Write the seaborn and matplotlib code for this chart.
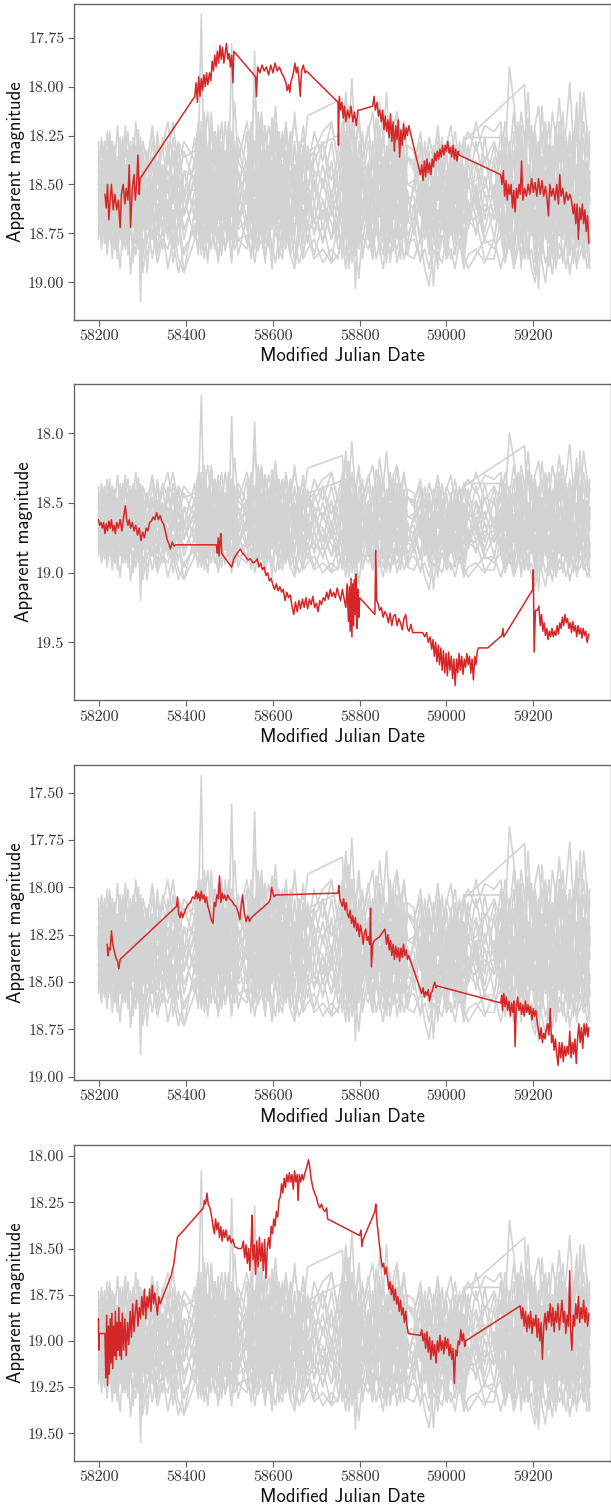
import matplotlib
matplotlib.use("Agg")
import matplotlib.pyplot as plt
import numpy as np
import pandas as pd
import seaborn as sns

# ---------------- data ----------------
# common epochs of the comparison (grey) light curves
grey_mjd = [58198, 58205, 58212, 58218, 58224, 58230, 58236, 58242, 58248, 58254, 58260, 58266, 58272, 58278, 58284, 58290, 58295, 58300,
            58310, 58322, 58334, 58346, 58358, 58370, 58382, 58395,
            58420, 58428, 58435, 58442, 58450, 58458, 58466, 58474, 58482, 58490, 58498, 58505, 58512, 58520,
            58540, 58550, 58558, 58566, 58574, 58582, 58590, 58598, 58606, 58614, 58622, 58630, 58640, 58650, 58660, 58670, 58680,
            58695, 58715, 58735, 58750,
            58760, 58768, 58775, 58782, 58790, 58798, 58806,
            58820, 58830, 58838, 58846, 58854, 58862, 58870, 58878, 58886, 58894, 58902, 58910,
            58925, 58940, 58950, 58960, 58970, 58980, 58990, 59000, 59010, 59020, 59030, 59040, 59050,
            59068, 59088,
            59110, 59125, 59135, 59145, 59155, 59165, 59172, 59180, 59188, 59196, 59204, 59212, 59220, 59228, 59236, 59244, 59252,
            59260, 59268, 59276, 59284, 59292, 59300, 59308, 59316, 59324, 59330]
N = None
# comparison stars: deviation in centi-magnitudes from the panel zero point
grey_star01 = [2, 12, -5, 15, 0, 20, -8, 10, 25, 3, 18, -6, 14, 5, 22, 8, 62, 10,
               47, 15, 5, 25, 0, 20, 10, 30,
               5, -10, -85, 10, -5, 15, 0, 20, -8, 12, 2, -70, 8, 18,
               10, 0, -66, 15, 5, 25, -2, 12, 20, 0, 18, 8, 28, 5, 15, 25, 10,
               20, 30, 15, 25,
               10, -5, 20, 0, 55, 12, 25,
               5, 20, -5, 15, 28, 8, 22, 0, 18, 30, 10, 20,
               25, 10, 30, 15, 54, 20, 8, 25, 12, 28, 15, 22, 18,
               20, 12,
               20, 10, 25, 5, 18, 30, 12, 22, 8, 28, 15, 55, 20, 10, 30, 18, 5, 25, 12, 32, 20, 8, 25, 15, 28, 20, 30]
grey_star02 = [-12, -2, -20, -8, -25, -5, -15, 0, -22, -10, -28, -5, -18, -8, -30, -12, -5, -20,
               -10, -25, -5, -18, -30, -8, -20, -12,
               -15, -28, -5, -20, -35, -10, -25, -12, -30, -5, -22, -15, -40, -10,
               -30, -15, -45, -20, -35, -10, -28, -18, -38, -12, -25, -8, -20, -30, -15, -22, -10,
               -15, -25, -30, -10,
               -20, -45, -25, -52, -15, -30, -10,
               -25, -35, -15, -40, -20, -45, -10, -28, -35, -18, -30, -12,
               -10, -20, -5, -22, -12, -25, -8, -18, -28, -10, -15, -20, -25,
               -15, -28,
               -25, -30, -10, -58, -40, -15, -35, -20, -45, -12, -28, -38, -18, -30, -10, -35, -22, -42, -15, -28, -50, -20, -35, -12, -45, -25, -18]
grey_star03 = [10, 20, 28, 15, 30, 22, 35, 18, 28, 12, 25, 32, 20, 35, 15, 28, 22, 47,
               30, 20, 38, 25, 45, 30, 47, 35,
               25, 35, 20, 30, 40, 22, 35, 28, 38, 18, 30, 25, 35, 30,
               28, 38, 22, 35, 30, 40, 25, 33, 42, 28, 36, 22, 38, 30, 42, 35, 28,
               40, 35, 42, 38,
               30, 45, 25, 38, 32, 50, 28,
               35, 25, 40, 30, 38, 22, 42, 30, 35, 28, 40, 32,
               30, 40, 35, 45, 30, 38, 42, 28, 40, 35, 30, 45, 38,
               35, 42,
               30, 45, 35, 28, 42, 30, 38, 25, 40, 35, 48, 30, 42, 52, 35, 28, 45, 32, 40, 30, 48, 35, 42, 38, 30, 45, 40]
grey_star04 = [-5, 15, 0, 25, -10, 18, 5, 28, -8, 20, 2, 25, -12, 15, 0, 22, 30, 5,
               12, -10, 20, -5, 15, 25, -8, 18,
               0, 20, -15, 10, 25, -5, 18, 2, 22, -10, 15, 5, -20, 12,
               -5, 20, 0, -25, 15, 5, 25, -10, 18, 2, 22, -5, 15, 30, 0, 20, 8,
               5, 10, 22, 30,
               -30, 15, -10, 25, 5, 35, 0,
               20, 0, 25, -8, 15, 5, 28, -10, 20, 2, 25, 10,
               15, 30, 5, 25, 10, 35, 20, 8, 28, 15, 35, 10, 25,
               5, 30,
               15, -5, 20, 35, 0, 25, 10, 40, 5, 22, -10, 30, 15, 0, 25, 40, 10, 20, -5, 30, 15, 42, 5, 25, 10, 35, 20]
grey_star05 = [5, -10, 10, -15, 8, -5, 15, -12, 5, -8, 12, -15, 3, -10, 8, -5, 12, 0,
               -15, 8, -10, 12, -5, 5, -18, 10,
               -8, 5, -20, -5, 10, -15, 5, -22, 0, -12, 8, -10, 3, -5,
               12, -15, 8, -20, 0, -12, 10, -25, 5, -10, 12, -15, 0, -8, 10, -18, 5,
               -10, -20, 0, -12,
               5, -25, 10, -15, 20, -5, 15,
               -10, 12, -5, 18, -12, 8, -8, 15, -15, 5, -10, 12,
               5, -8, 12, -5, 8, -12, 15, 0, -8, 10, -5, 8, 0,
               -10, 8,
               8, -15, 12, -5, 20, -20, 10, -8, 15, -25, 5, -10, 18, -5, 12, -15, 8, -30, 10, -5, 15, -12, 5, -45, 12, -8, 10]
grey_star06 = [15, 5, 20, 8, 25, 12, 5, 22, 15, 28, 8, 18, 25, 10, 30, 18, 40, 12,
               20, 30, 12, 22, 10, 35, 20, 47,
               15, 8, 25, 12, 5, 20, 10, 28, 15, 5, 22, 10, 18, 25,
               20, 8, 28, 15, 22, 5, 30, 18, 10, 25, 15, 32, 20, 10, 28, 15, 22,
               25, 15, 30, 20,
               15, 28, 10, 22, 18, 30, 20,
               12, 28, 18, 8, 25, 15, 32, 12, 25, 18, 10, 28,
               20, 12, 25, 18, 30, 15, 22, 35, 18, 25, 12, 28, 20,
               25, 15,
               12, 25, 18, 35, 15, 22, 30, 10, 25, 18, 35, 22, 12, 28, 20, 35, 15, 25, 30, 12, 22, 18, 32, 25, 15, 28, 22]
grey_star07 = [0, -8, 5, -2, 10, -12, 2, -5, 8, -15, 0, 5, -8, 10, -2, -12, 5, -5,
               2, -12, 8, -8, 5, -15, 10, -5,
               -2, -12, 5, -25, -5, 0, -18, 8, -10, 2, -30, -5, -12, 0,
               -10, 5, -20, 2, -15, 8, -5, -22, 0, -12, 5, -8, -18, 2, -10, 5, -15,
               -5, 0, -8, 5,
               -12, 8, -38, 0, -15, 10, -5,
               0, -15, 5, -25, 2, -10, 8, -20, 0, -8, 5, -12,
               -5, 8, -10, 5, -2, 10, -8, 2, 5, -12, 8, -5, 2,
               0, -12,
               -8, 8, -15, 2, -10, 5, -22, 0, -5, 10, -18, 5, -12, 0, -8, 12, -25, 2, -15, 8, -5, 0, -28, 8, -10, 2, -5]
grey_star08 = [8, 18, 2, 12, 20, 5, 15, 25, 8, 18, 0, 12, 22, 5, 15, 28, 10, 20,
               5, 18, 28, 10, 22, 5, 15, 25,
               10, 20, 5, 15, 25, 8, 20, 0, 12, 25, 5, 18, 10, 22,
               5, 18, 10, 25, 0, 15, 8, 22, 12, 0, 18, 8, 25, 12, 0, 10, -15,
               N, N, N, N,
               N, -25, 5, 18, 0, 22, 10,
               18, 5, 22, 12, 0, 15, 25, 8, 18, 2, 22, 10,
               15, 5, 20, 10, 25, 2, 18, 12, 5, 22, 8, -20, N,
               N, N,
               N, N, N, N, N, N, N, -49, 10, 25, 5, 18, 30, 8, 20, 12, 28, 5, 18, 25, 10, 20, 2, 15, 28, 12, 22]
grey_star09 = [-15, 0, -10, 8, -18, 2, -12, 10, -20, 0, -8, 12, -15, 2, -10, 15, -5, 8,
               -8, 5, -20, 10, -12, 0, -15, 5,
               5, -20, 0, -35, -8, 5, -25, -2, 10, -15, 0, -20, 5, -10,
               0, -18, 5, -12, -30, 0, -15, 8, -20, -5, 10, -12, 2, -18, 5, -10, -33,
               N, N, N, N,
               -42, 0, -20, 5, -15, 8, -10,
               -5, 10, -18, 2, -12, 12, -25, 0, -8, 10, -15, 2,
               0, -15, 5, -10, 10, -18, 2, -12, 8, -5, 12, -22, N,
               N, N,
               N, -22, -10, 8, -15, 5, -20, 10, -8, 2, -25, 8, -12, 5, -18, 0, 10, -15, 2, -20, 8, -10, 0, -15, 10, -5, 2]
grey_star10 = [20, 30, 15, 35, 22, 40, 18, 30, 45, 25, 35, 20, 48, 28, 38, 22, 35, 30,
               38, 25, 42, 30, 35, 22, 40, 47,
               30, 20, 38, 25, 42, 18, 32, 40, 22, 35, 28, 42, 20, 30,
               35, 25, 42, 30, 20, 38, 28, 45, 22, 35, 40, 25, 38, 45, 30, 40, 35,
               30, 42, 35, 40,
               25, 38, 20, 42, 30, 25, 35,
               28, 40, 22, 35, 45, 30, 38, 25, 42, 32, 28, 38,
               40, 30, 45, 54, 35, 42, 28, 40, 35, 45, 30, 38, 45,
               38, 30,
               35, 28, 42, 30, 45, 35, 25, 40, 32, 45, 52, 38, 30, 42, 35, 48, 30, 40, 35, 45, 28, 38, 42, 30, 40, 35, 45]
grey_star11 = [20, -10, 18, -8, 22, -12, 15, -5, 25, -10, 20, -8, 18, -12, 22, -5, 15, -10,
               20, -12, 25, -8, 18, -15, 22, -5,
               18, -10, 22, -15, 20, -8, 25, -12, 18, -10, 22, -15, 20, -5,
               22, -12, 18, -8, 25, -15, 20, -10, 22, -5, 18, -12, 25, -8, 20, -10, 18,
               -5, 20, -10, 15,
               25, -15, 20, -10, 28, -12, 18,
               -8, 22, -12, 18, -10, 25, -5, 20, -15, 22, -8, 18,
               20, -10, 25, -8, 18, -12, 22, -5, 20, -10, 25, -8, 18,
               -8, 20,
               -12, 22, -8, 20, -15, 25, -10, 18, -5, 22, -12, 20, -8, 25, -10, 18, -15, 22, -5, 20, -12, 25, -8, 18, -10, 22, -5]
grey_star12 = [-20, 8, -15, 10, -22, 5, -18, 12, -15, 8, -25, 5, -20, 10, -18, 5, -22, 8,
               -15, 10, -25, 5, -20, 12, -18, 8,
               -22, 5, -30, 10, -18, 8, -25, 12, -20, 5, -28, 10, -15, 8,
               -25, 10, -20, 5, -28, 12, -18, 8, -30, 5, -22, 10, -25, 8, -20, 12, -18,
               5, -20, 10, -15,
               -28, 8, -35, 10, -22, 5, -25,
               10, -20, 5, -28, 12, -18, 8, -25, 5, -22, 10, -18,
               -15, 8, -20, 12, -18, 5, -22, 10, -15, 8, -20, 5, -18,
               10, -22,
               10, -25, 5, -20, 12, -30, 8, -22, 10, -28, 5, -20, 12, -25, 8, -18, 10, -30, 5, -22, 12, -25, 8, -20, 10, -28, 5]
grey_star13 = [5, 25, 8, 28, 3, 22, 10, 30, 5, 25, 12, 28, 2, 24, 8, 30, 5, 26,
               8, 30, 5, 28, 10, 32, 6, 25,
               10, 28, 4, 30, 8, 25, 2, 32, 10, 26, 5, 30, 8, 24,
               5, 30, 10, 28, 2, 32, 8, 25, 5, 30, 10, 28, 4, 26, 8, 32, 6,
               28, 10, 30, 8,
               2, 30, 8, 35, 5, 28, 10,
               30, 6, 28, 10, 32, 4, 26, 8, 30, 5, 28, 10,
               8, 30, 5, 32, 10, 28, 6, 30, 8, 26, 4, 30, 10,
               28, 6,
               30, 5, 28, 8, 32, 4, 30, 10, 26, 6, 35, 8, 28, 5, 30, 10, 32, 4, 28, 8, 30, 6, 34, 10, 28, 5, 30]
grey_star14 = [15, 35, 20, 38, 12, 32, 22, 40, 18, 35, 15, 38, 20, 42, 16, 35, 22, 40,
               18, 40, 22, 35, 15, 42, 20, 38,
               22, 38, 15, 40, 20, 35, 18, 42, 22, 36, 15, 40, 20, 38,
               18, 40, 22, 36, 15, 42, 20, 38, 18, 40, 22, 35, 16, 42, 20, 38, 22,
               38, 22, 42, 20,
               40, 18, 45, 22, 38, 15, 40,
               20, 40, 18, 38, 22, 42, 15, 36, 20, 40, 18, 38,
               22, 42, 18, 38, 20, 45, 16, 40, 22, 38, 18, 42, 20,
               20, 40,
               40, 18, 42, 22, 38, 15, 45, 20, 40, 18, 42, 22, 38, 16, 44, 20, 40, 18, 42, 22, 38, 15, 45, 20, 40, 18, 42]
grey_star15 = [-5, -22, -8, -25, -2, -20, -10, -28, -5, -18, -12, -25, -3, -22, -8, -26, -5, -20,
               -8, -28, -5, -22, -12, -30, -6, -20,
               -10, -30, -5, -25, -12, -35, -8, -28, -4, -30, -10, -25, -6, -22,
               -8, -30, -12, -35, -5, -28, -10, -32, -6, -25, -12, -30, -8, -35, -10, -28, -5,
               -25, -10, -30, -8,
               -12, -38, -8, -30, -15, -35, -10,
               -28, -8, -32, -12, -25, -5, -30, -10, -35, -8, -28, -12,
               -8, -25, -5, -22, -10, -28, -6, -20, -12, -25, -5, -22, -10,
               -30, -10,
               -20, -8, -30, -12, -35, -10, -28, -5, -32, -12, -25, -8, -38, -10, -30, -5, -28, -12, -35, -8, -25, -10, -40, -6, -30, -12, -25]
grey_star16 = [25, 0, 20, -2, 28, 5, 22, 0, 18, -5, 25, 2, 20, -3, 26, 0, 22, 5,
               25, -2, 20, 5, 28, 0, 22, -5,
               20, 2, 28, -5, 22, 0, 25, 5, 18, -2, 26, 0, 22, 5,
               25, -3, 22, 5, 28, 0, 20, -5, 26, 2, 22, 0, 28, -2, 20, 5, 25,
               0, 25, 5, 22,
               -5, 28, 0, 30, 5, 25, -2,
               26, 0, 22, 5, 28, -5, 20, 2, 25, 0, 22, 5,
               28, 0, 22, 5, 30, -2, 25, 2, 22, 0, 28, 5, 20,
               2, 26,
               2, 28, 0, 25, 5, 30, -5, 22, 0, 28, 5, 25, -2, 30, 0, 22, 5, 28, -3, 25, 2, 30, 0, 22, 5, 28, 0]
grey_star17 = [-10, 12, -5, 15, -12, 8, -8, 18, -15, 10, -5, 14, -10, 8, -12, 16, -8, 10,
               -12, 15, -8, 12, -15, 10, -5, 18,
               -12, 10, -18, 15, -8, 12, -15, 8, -10, 18, -20, 10, -8, 15,
               -10, 15, -18, 12, -8, 18, -15, 10, -12, 15, -8, 12, -15, 18, -10, 8, -12,
               12, -8, 15, -5,
               -15, 18, -20, 12, -10, 20, -8,
               15, -12, 10, -18, 12, -8, 18, -15, 10, -10, 15, -12,
               -8, 12, -10, 15, -12, 10, -5, 18, -10, 12, -8, 15, -10,
               15, -12,
               12, -15, 10, -12, 18, -18, 8, -10, 15, -20, 12, -8, 18, -15, 10, -12, 15, -25, 12, -10, 18, -15, 8, -20, 15, -10, 12]
grey_star18 = [30, 10, 32, 12, 28, 8, 35, 15, 30, 10, 33, 12, 28, 8, 32, 14, 30, 10,
               32, 12, 35, 10, 30, 15, 33, 8,
               30, 12, 35, 8, 32, 15, 28, 10, 34, 12, 30, 8, 32, 15,
               32, 10, 35, 12, 30, 8, 34, 15, 28, 10, 32, 12, 35, 8, 30, 15, 32,
               12, 32, 10, 35,
               30, 8, 35, 12, 38, 10, 32,
               12, 34, 10, 30, 15, 35, 8, 32, 12, 30, 10, 34,
               12, 32, 10, 35, 15, 30, 8, 34, 12, 32, 10, 35, 15,
               10, 32,
               30, 10, 34, 12, 38, 8, 32, 15, 35, 10, 30, 12, 36, 8, 32, 15, 34, 10, 30, 12, 38, 8, 32, 15, 35, 10, 32]
grey_star19 = [2, -18, 5, -15, 0, -20, 4, -12, 2, -22, 6, -15, 0, -18, 5, -20, 2, -15,
               4, -20, 2, -18, 6, -22, 0, -15,
               2, -22, 5, -18, 0, -28, 4, -20, 6, -15, 2, -25, 0, -18,
               4, -25, 2, -20, 6, -28, 0, -18, 5, -22, 2, -25, 4, -20, 0, -18, 5,
               -15, 4, -20, 2,
               5, -25, 2, -30, 6, -20, 0,
               -20, 4, -18, 2, -25, 5, -15, 0, -22, 4, -18, 2,
               4, -18, 2, -15, 5, -20, 0, -15, 6, -18, 2, -20, 4,
               -20, 4,
               -18, 4, -22, 2, -25, 5, -18, 0, -28, 4, -20, 2, -25, 6, -18, 0, -22, 4, -25, 2, -20, 5, -30, 0, -22, 4, -18]
grey_star20 = [0, 20, -2, 18, 5, 22, 0, 15, -5, 20, 2, 18, 0, 22, -3, 16, 4, 20,
               0, 22, -5, 18, 2, 25, 0, 16,
               -2, 18, 5, 22, 0, 15, -5, 20, 2, 25, 0, 18, -3, 20,
               2, 22, -5, 18, 0, 25, 5, 16, -2, 20, 0, 24, -5, 18, 2, 22, 0,
               22, 0, 18, 5,
               20, -8, 25, 0, 22, -5, 18,
               0, 22, -5, 18, 2, 25, 0, 16, -3, 20, 5, 22,
               0, 18, -2, 22, 5, 20, 0, 25, -5, 18, 2, 22, 0,
               20, -2,
               20, 0, 25, -5, 18, 2, 22, -8, 20, 0, 25, -3, 18, 5, 22, -5, 20, 0, 28, -2, 18, 5, 22, -5, 20, 0, 25]

# zero point of the comparison ensemble in each panel (mag)
grey_zero = [18.48, 18.58, 18.26, 18.93]

# target light curves (MJD, magnitude)
red1 = [(58213, 18.55), (58216, 18.62), (58219, 18.50), (58222, 18.68), (58225, 18.58), (58228, 18.50), (58232, 18.63), (58236, 18.55),
        (58240, 18.63), (58244, 18.58), (58248, 18.72), (58251, 18.55), (58255, 18.50), (58259, 18.60), (58262, 18.52), (58266, 18.58),
        (58269, 18.40), (58272, 18.72), (58276, 18.52), (58280, 18.45), (58283, 18.58), (58286, 18.50), (58289, 18.35), (58292, 18.55),
        (58294, 18.47),
        (58420, 18.05), (58423, 17.98), (58426, 18.08), (58429, 17.95), (58432, 18.05), (58435, 17.96), (58438, 18.02), (58441, 17.94),
        (58444, 18.00), (58447, 17.93), (58450, 17.99), (58454, 17.93), (58457, 17.97), (58460, 17.87), (58463, 17.92), (58466, 17.84),
        (58469, 17.90), (58472, 17.82), (58475, 17.88), (58478, 17.79), (58481, 17.86), (58484, 17.80), (58487, 17.88), (58490, 17.83),
        (58493, 17.78), (58496, 17.86), (58499, 17.83), (58502, 17.90), (58505, 17.84), (58508, 17.98), (58510, 17.82),
        (58560, 17.95), (58562, 18.05), (58565, 17.90), (58570, 17.93), (58575, 17.89), (58580, 17.92), (58585, 17.90), (58590, 17.94),
        (58595, 17.89), (58600, 17.93), (58605, 17.88), (58610, 17.92), (58615, 17.90), (58620, 17.93), (58625, 17.95), (58630, 17.98),
        (58633, 18.02), (58636, 17.99), (58639, 18.03), (58642, 17.97), (58645, 17.95), (58648, 17.92), (58651, 17.88), (58654, 17.93),
        (58657, 17.90), (58660, 17.96), (58663, 18.05), (58666, 17.92), (58670, 17.89), (58674, 17.93), (58677, 17.92),
        (58750, 18.08), (58751, 18.30), (58753, 18.05), (58756, 18.12), (58759, 18.08), (58762, 18.16), (58765, 18.10), (58768, 18.18),
        (58772, 18.12), (58776, 18.16), (58780, 18.10), (58784, 18.18), (58788, 18.13), (58792, 18.20), (58796, 18.12), (58800, 18.12),
        (58830, 18.10), (58833, 18.05), (58836, 18.12), (58840, 18.08), (58843, 18.15), (58846, 18.12), (58850, 18.18), (58853, 18.12),
        (58856, 18.22), (58859, 18.15), (58862, 18.23), (58865, 18.17), (58868, 18.26), (58871, 18.14), (58874, 18.28), (58877, 18.18),
        (58880, 18.33), (58883, 18.20), (58886, 18.27), (58889, 18.17), (58892, 18.36), (58895, 18.22), (58898, 18.30), (58901, 18.19),
        (58904, 18.27), (58907, 18.21), (58910, 18.25), (58913, 18.20),
        (58940, 18.45), (58943, 18.40), (58946, 18.48), (58949, 18.38), (58952, 18.46), (58955, 18.37), (58958, 18.44), (58961, 18.39),
        (58964, 18.45), (58967, 18.37), (58970, 18.41), (58973, 18.34), (58976, 18.38), (58979, 18.33), (58982, 18.37), (58985, 18.32),
        (58988, 18.36), (58991, 18.30), (58994, 18.35), (58997, 18.30), (59000, 18.33), (59003, 18.28), (59006, 18.34), (59009, 18.31),
        (59012, 18.36), (59015, 18.30), (59018, 18.37), (59021, 18.32), (59024, 18.38), (59027, 18.33), (59029, 18.35),
        (59125, 18.45), (59128, 18.50), (59131, 18.43), (59134, 18.56), (59137, 18.48), (59140, 18.58), (59143, 18.50), (59146, 18.55),
        (59149, 18.50), (59152, 18.62), (59155, 18.53), (59158, 18.64), (59161, 18.52), (59164, 18.57), (59167, 18.50), (59170, 18.55),
        (59173, 18.38), (59176, 18.58), (59180, 18.52), (59184, 18.56), (59188, 18.50), (59192, 18.55), (59196, 18.47), (59200, 18.54),
        (59204, 18.49), (59208, 18.56), (59212, 18.47), (59216, 18.55), (59220, 18.48), (59224, 18.56), (59228, 18.51), (59232, 18.58),
        (59235, 18.66), (59238, 18.50), (59242, 18.56), (59246, 18.52), (59250, 18.58), (59254, 18.50), (59258, 18.60), (59261, 18.45),
        (59264, 18.56), (59268, 18.52), (59272, 18.60), (59276, 18.54), (59280, 18.58), (59284, 18.55), (59288, 18.58), (59292, 18.65),
        (59295, 18.60), (59298, 18.70), (59301, 18.60), (59304, 18.78), (59307, 18.62), (59310, 18.68), (59313, 18.60), (59316, 18.70),
        (59319, 18.63), (59322, 18.74), (59325, 18.66), (59328, 18.80)]

red2 = [(58198, 18.62), (58201, 18.66), (58204, 18.64), (58207, 18.68), (58210, 18.64), (58213, 18.72), (58216, 18.65), (58219, 18.70),
        (58222, 18.63), (58225, 18.68), (58228, 18.62), (58231, 18.70), (58234, 18.66), (58237, 18.72), (58240, 18.64), (58244, 18.68),
        (58248, 18.62), (58252, 18.70), (58256, 18.60), (58260, 18.52), (58263, 18.62), (58266, 18.66), (58269, 18.62), (58272, 18.68),
        (58276, 18.64), (58280, 18.70), (58284, 18.66), (58288, 18.73), (58292, 18.68), (58296, 18.77), (58300, 18.71), (58304, 18.75),
        (58308, 18.68), (58312, 18.70), (58316, 18.64), (58320, 18.63), (58324, 18.60), (58328, 18.62), (58332, 18.57), (58336, 18.62),
        (58340, 18.59), (58344, 18.63), (58348, 18.65), (58352, 18.70), (58356, 18.76), (58360, 18.79), (58364, 18.83), (58368, 18.78),
        (58372, 18.81), (58376, 18.80),
        (58470, 18.80), (58472, 18.86), (58474, 18.75), (58476, 18.88), (58478, 18.78), (58480, 18.72), (58482, 18.86), (58486, 18.88),
        (58505, 18.96), (58510, 18.90), (58518, 18.86), (58525, 18.83), (58530, 18.86), (58536, 18.88), (58542, 18.91), (58548, 18.90),
        (58554, 18.93), (58560, 18.92), (58564, 18.90), (58568, 18.96), (58572, 18.93), (58576, 18.98), (58580, 18.96), (58584, 19.02),
        (58588, 19.00), (58592, 19.06), (58596, 19.04), (58600, 19.09), (58604, 19.12), (58608, 19.08), (58612, 19.13), (58616, 19.10),
        (58620, 19.14), (58624, 19.12), (58628, 19.20), (58632, 19.14), (58636, 19.18), (58640, 19.16), (58644, 19.24), (58648, 19.30),
        (58652, 19.21), (58656, 19.28), (58660, 19.20), (58664, 19.26), (58668, 19.19), (58672, 19.25), (58676, 19.18), (58680, 19.26),
        (58684, 19.19), (58688, 19.23), (58692, 19.17), (58696, 19.25), (58700, 19.22), (58704, 19.28), (58708, 19.20), (58712, 19.23),
        (58716, 19.18), (58720, 19.20), (58724, 19.14), (58728, 19.19), (58732, 19.12), (58736, 19.17), (58740, 19.14), (58744, 19.18),
        (58748, 19.11), (58752, 19.16), (58756, 19.20), (58760, 19.12),
        (58768, 19.25), (58771, 19.08), (58774, 19.35), (58776, 19.10), (58778, 19.42), (58780, 19.04), (58782, 19.46), (58784, 19.08),
        (58786, 19.38), (58788, 19.05), (58790, 19.30), (58792, 19.01), (58794, 19.40), (58796, 19.12), (58798, 19.32), (58800, 19.18),
        (58835, 19.30), (58837, 18.84), (58839, 19.20), (58842, 19.22), (58846, 19.27), (58850, 19.25), (58854, 19.32), (58858, 19.28),
        (58862, 19.30), (58866, 19.36), (58870, 19.29), (58874, 19.38), (58878, 19.31), (58882, 19.30), (58886, 19.38), (58890, 19.33),
        (58894, 19.36), (58898, 19.41), (58902, 19.33), (58906, 19.30), (58910, 19.40), (58914, 19.42), (58918, 19.37), (58922, 19.43),
        (58926, 19.43), (58945, 19.43), (58950, 19.46), (58954, 19.43), (58958, 19.50), (58962, 19.46), (58966, 19.55), (58969, 19.48),
        (58972, 19.60), (58975, 19.50), (58978, 19.64), (58981, 19.52), (58984, 19.66), (58987, 19.54), (58990, 19.70), (58993, 19.56),
        (58996, 19.72), (58999, 19.58), (59002, 19.74), (59005, 19.57), (59008, 19.70), (59011, 19.60), (59014, 19.76), (59017, 19.62),
        (59020, 19.81), (59023, 19.62), (59026, 19.72), (59029, 19.58), (59032, 19.70), (59035, 19.60), (59038, 19.73), (59041, 19.62),
        (59044, 19.68), (59047, 19.58), (59050, 19.66), (59053, 19.60), (59056, 19.72), (59059, 19.62), (59062, 19.77), (59065, 19.60),
        (59068, 19.66), (59071, 19.56), (59074, 19.54), (59095, 19.54), (59128, 19.45), (59130, 19.40), (59132, 19.46), (59199, 19.12),
        (59200, 18.98), (59202, 19.57), (59205, 19.27), (59210, 19.27), (59213, 19.24), (59216, 19.38), (59219, 19.30), (59222, 19.42),
        (59225, 19.36), (59228, 19.45), (59231, 19.40), (59234, 19.48), (59237, 19.42), (59240, 19.46), (59243, 19.40), (59246, 19.46),
        (59249, 19.42), (59252, 19.45), (59255, 19.38), (59258, 19.44), (59261, 19.36), (59264, 19.40), (59267, 19.32), (59270, 19.38),
        (59273, 19.30), (59276, 19.36), (59279, 19.33), (59282, 19.40), (59285, 19.36), (59288, 19.43), (59291, 19.35), (59294, 19.42),
        (59297, 19.38), (59300, 19.46), (59303, 19.38), (59306, 19.44), (59309, 19.40), (59312, 19.47), (59315, 19.40), (59318, 19.45),
        (59321, 19.42), (59324, 19.50), (59328, 19.44)]

red3 = [(58218, 18.30), (58220, 18.36), (58222, 18.32), (58225, 18.33), (58228, 18.23), (58231, 18.30), (58234, 18.33), (58238, 18.37),
        (58242, 18.39), (58245, 18.43), (58248, 18.38),
        (58378, 18.10), (58380, 18.05), (58383, 18.14), (58386, 18.16), (58389, 18.13), (58392, 18.16), (58395, 18.14), (58400, 18.11),
        (58405, 18.09), (58410, 18.08), (58415, 18.05), (58420, 18.06), (58423, 18.02), (58426, 18.06), (58429, 18.03), (58432, 18.07),
        (58435, 18.02), (58438, 18.06), (58441, 18.04), (58444, 18.08), (58447, 18.05), (58450, 18.10), (58454, 18.13), (58458, 18.17),
        (58462, 18.19), (58465, 18.08), (58468, 18.10), (58471, 18.04), (58474, 18.06), (58477, 17.94), (58480, 18.08), (58483, 18.03),
        (58486, 18.06), (58489, 18.04), (58492, 18.07), (58496, 18.04), (58500, 18.06), (58505, 18.07), (58510, 18.09), (58515, 18.10),
        (58520, 18.13), (58524, 18.17), (58527, 18.10), (58530, 18.04), (58534, 18.13), (58538, 18.18), (58542, 18.15), (58546, 18.18),
        (58550, 18.16), (58555, 18.15), (58560, 18.14), (58565, 18.13), (58570, 18.12), (58575, 18.11), (58580, 18.10), (58585, 18.09),
        (58590, 18.08), (58594, 18.06), (58597, 18.00), (58600, 18.03), (58603, 18.05), (58606, 18.04), (58610, 18.04),
        (58750, 18.03), (58752, 17.99), (58754, 18.06), (58757, 18.08), (58760, 18.10), (58763, 18.06), (58766, 18.12), (58769, 18.08),
        (58772, 18.14), (58775, 18.16), (58778, 18.12), (58781, 18.19), (58784, 18.15), (58787, 18.21), (58790, 18.16), (58793, 18.23),
        (58796, 18.19), (58799, 18.26), (58802, 18.20), (58805, 18.24), (58808, 18.30), (58811, 18.24), (58814, 18.22), (58817, 18.28),
        (58820, 18.26), (58823, 18.30), (58825, 18.11), (58827, 18.42), (58830, 18.30), (58834, 18.28), (58840, 18.27), (58846, 18.26),
        (58852, 18.24), (58858, 18.22), (58862, 18.30), (58865, 18.25), (58868, 18.33), (58871, 18.28), (58874, 18.36), (58877, 18.30),
        (58880, 18.38), (58883, 18.31), (58886, 18.37), (58889, 18.32), (58892, 18.39), (58895, 18.32), (58898, 18.37), (58901, 18.30),
        (58904, 18.36), (58907, 18.33), (58910, 18.38), (58913, 18.36),
        (58940, 18.54), (58943, 18.56), (58946, 18.53), (58949, 18.58), (58952, 18.55), (58955, 18.57), (58958, 18.54), (58961, 18.60),
        (58964, 18.56), (58967, 18.55), (58970, 18.52), (58973, 18.50), (58976, 18.53), (58978, 18.52),
        (59125, 18.61), (59127, 18.57), (59129, 18.65), (59132, 18.56), (59135, 18.63), (59138, 18.58), (59141, 18.65), (59144, 18.60),
        (59147, 18.68), (59150, 18.61), (59153, 18.66), (59156, 18.60), (59158, 18.84), (59161, 18.63), (59164, 18.58), (59167, 18.65),
        (59170, 18.61), (59173, 18.67), (59176, 18.62), (59179, 18.68), (59182, 18.60), (59185, 18.66), (59188, 18.62), (59191, 18.67),
        (59194, 18.63), (59197, 18.70), (59200, 18.64), (59203, 18.68), (59206, 18.65), (59209, 18.71), (59212, 18.76), (59215, 18.80),
        (59218, 18.74), (59221, 18.82), (59224, 18.77), (59227, 18.80), (59230, 18.75), (59233, 18.72), (59236, 18.78), (59239, 18.64),
        (59242, 18.82), (59245, 18.78), (59248, 18.86), (59251, 18.80), (59254, 18.88), (59257, 18.94), (59260, 18.82), (59263, 18.90),
        (59266, 18.82), (59269, 18.92), (59272, 18.84), (59275, 18.89), (59278, 18.84), (59281, 18.88), (59284, 18.76), (59287, 18.90),
        (59290, 18.82), (59293, 18.88), (59296, 18.80), (59299, 18.93), (59302, 18.80), (59305, 18.72), (59308, 18.82), (59311, 18.74),
        (59314, 18.85), (59317, 18.72), (59320, 18.78), (59323, 18.72), (59326, 18.79), (59328, 18.74)]

red4 = [(58198, 18.88), (58199, 19.05), (58200, 18.96), (58213, 18.96), (58215, 19.20), (58217, 18.86), (58219, 19.24), (58221, 18.92),
        (58223, 19.18), (58225, 18.88), (58227, 19.12), (58229, 18.85), (58231, 19.15), (58233, 18.92), (58235, 19.08), (58237, 18.84),
        (58239, 19.10), (58241, 18.90), (58243, 19.05), (58245, 18.82), (58247, 19.08), (58249, 18.90), (58251, 19.10), (58253, 18.85),
        (58256, 19.05), (58259, 18.88), (58262, 19.08), (58265, 18.90), (58268, 19.02), (58271, 18.84), (58274, 18.98), (58277, 18.80),
        (58280, 18.95), (58283, 18.84), (58286, 18.78), (58289, 18.92), (58292, 18.82), (58295, 18.88), (58298, 18.76), (58301, 18.86),
        (58304, 18.72), (58307, 18.88), (58310, 18.76), (58313, 18.82), (58316, 18.72), (58319, 18.84), (58322, 18.70), (58325, 18.80),
        (58328, 18.74), (58331, 18.80), (58334, 18.86), (58337, 18.76), (58340, 18.80),
        (58365, 18.65), (58372, 18.58), (58375, 18.52), (58378, 18.47), (58380, 18.44), (58440, 18.28), (58442, 18.24), (58445, 18.26),
        (58448, 18.20), (58451, 18.26), (58455, 18.28), (58459, 18.33), (58462, 18.38), (58465, 18.42), (58468, 18.34), (58471, 18.40),
        (58474, 18.36), (58477, 18.44), (58480, 18.38), (58483, 18.46), (58486, 18.40), (58489, 18.44), (58492, 18.40), (58496, 18.46),
        (58500, 18.43), (58504, 18.47), (58508, 18.45), (58512, 18.49), (58520, 18.50), (58528, 18.50), (58532, 18.46), (58535, 18.55),
        (58538, 18.48), (58541, 18.58), (58544, 18.50), (58547, 18.62), (58550, 18.45), (58552, 18.32), (58554, 18.56), (58557, 18.48),
        (58560, 18.64), (58563, 18.46), (58566, 18.60), (58569, 18.44), (58572, 18.57), (58575, 18.47), (58578, 18.62), (58581, 18.45),
        (58584, 18.66), (58587, 18.50), (58590, 18.44), (58593, 18.50), (58596, 18.38), (58599, 18.42), (58602, 18.34), (58605, 18.38),
        (58608, 18.30), (58611, 18.33), (58614, 18.24), (58617, 18.22), (58620, 18.15), (58623, 18.20), (58626, 18.12), (58629, 18.17),
        (58632, 18.10), (58635, 18.14), (58638, 18.09), (58641, 18.14), (58644, 18.10), (58647, 18.18), (58650, 18.08), (58653, 18.14),
        (58656, 18.10), (58658, 18.24), (58661, 18.10), (58664, 18.14), (58667, 18.10), (58670, 18.13), (58674, 18.09), (58678, 18.06),
        (58682, 18.02), (58685, 18.06), (58688, 18.12), (58692, 18.17), (58696, 18.20), (58700, 18.22), (58704, 18.26), (58708, 18.28),
        (58712, 18.26), (58716, 18.29), (58720, 18.30), (58724, 18.28), (58726, 18.34),
        (58800, 18.43), (58803, 18.40), (58805, 18.49), (58808, 18.45), (58835, 18.30), (58837, 18.26), (58840, 18.36), (58845, 18.47),
        (58849, 18.55), (58852, 18.60), (58855, 18.58), (58858, 18.64), (58861, 18.60), (58864, 18.66), (58867, 18.72), (58870, 18.68),
        (58873, 18.75), (58876, 18.70), (58879, 18.78), (58882, 18.72), (58885, 18.80), (58888, 18.76), (58891, 18.84), (58894, 18.78),
        (58897, 18.86), (58900, 18.82), (58903, 18.90), (58906, 18.84), (58909, 18.92), (58912, 18.96),
        (58940, 18.97), (58943, 18.94), (58946, 19.00), (58949, 18.96), (58952, 19.04), (58955, 18.95), (58958, 19.06), (58961, 18.98),
        (58964, 19.10), (58967, 19.00), (58970, 19.08), (58973, 19.02), (58976, 19.12), (58979, 19.00), (58982, 19.06), (58985, 18.97),
        (58988, 19.05), (58991, 19.00), (58994, 19.07), (58997, 18.98), (59000, 19.04), (59003, 18.99), (59006, 19.08), (59009, 19.02),
        (59012, 19.10), (59015, 19.04), (59018, 19.23), (59021, 19.05), (59024, 19.08), (59027, 19.00), (59030, 19.02), (59033, 18.94),
        (59036, 19.00), (59039, 18.96), (59042, 19.03), (59044, 19.00),
        (59170, 18.81), (59173, 18.88), (59176, 18.82), (59179, 18.92), (59182, 18.84), (59185, 18.95), (59188, 18.86), (59191, 18.93),
        (59194, 18.84), (59197, 18.96), (59200, 18.88), (59203, 18.92), (59206, 18.86), (59209, 18.98), (59212, 18.88), (59215, 19.00),
        (59218, 18.90), (59221, 19.10), (59224, 18.92), (59227, 18.85), (59230, 18.94), (59233, 18.84), (59236, 18.90), (59239, 18.80),
        (59242, 18.92), (59245, 18.82), (59248, 18.95), (59251, 18.84), (59254, 18.90), (59257, 18.80), (59260, 18.94), (59263, 18.86),
        (59266, 18.78), (59269, 18.90), (59272, 18.84), (59275, 18.96), (59278, 18.86), (59281, 18.92), (59284, 18.62), (59286, 18.94),
        (59289, 19.05), (59292, 18.86), (59295, 18.92), (59298, 18.80), (59301, 18.88), (59304, 18.76), (59307, 18.90), (59310, 18.82),
        (59313, 18.88), (59316, 18.78), (59319, 18.90), (59322, 18.82), (59325, 18.92), (59328, 18.85)]

x_ticks = [58200, 58400, 58600, 58800, 59000, 59200]
y_ticks = [[17.75, 18.00, 18.25, 18.50, 18.75, 19.00],
           [18.0, 18.5, 19.0, 19.5],
           [17.50, 17.75, 18.00, 18.25, 18.50, 18.75, 19.00],
           [18.00, 18.25, 18.50, 18.75, 19.00, 19.25, 19.50]]
y_tick_fmt = ["{:.2f}", "{:.1f}", "{:.2f}", "{:.2f}"]
y_limits = [(19.191, 17.578), (19.916, 17.646), (19.017, 17.352), (19.648, 17.94)]
x_limits = (58141.7, 59377.9)

# ---------------- style ----------------
sns.set_style("ticks")
plt.rcParams["font.family"] = ["cmss10", "DejaVu Sans"]
plt.rcParams["axes.unicode_minus"] = False

GREY = "#d3d3d3"
RED = "#d62728"
SPINE = "#666666"

fig = plt.figure(figsize=(6.11, 15.05), dpi=100)
W = 1505.0
panel_px = [(4.0, 319.7), (384.0, 700.3), (764.7, 1080.0), (1145.0, 1460.7)]
left = 74.0 / 611.0
width = 536.5 / 611.0

grey_stars = [grey_star01, grey_star02, grey_star03, grey_star04, grey_star05,
              grey_star06, grey_star07, grey_star08, grey_star09, grey_star10,
              grey_star11, grey_star12, grey_star13, grey_star14, grey_star15,
              grey_star16, grey_star17, grey_star18, grey_star19, grey_star20]
for dev in grey_stars:
    assert len(dev) == len(grey_mjd), len(dev)
red_curves = [red1, red2, red3, red4]

for i in range(4):
    top_px, bot_px = panel_px[i]
    ax = fig.add_axes([left, 1 - bot_px / W, width, (bot_px - top_px) / W])

    rows = []
    for s, dev in enumerate(grey_stars):
        for t, d in zip(grey_mjd, dev):
            if d is not None:
                rows.append((s, t, grey_zero[i] + d / 100.0))
    gdf = pd.DataFrame(rows, columns=["star", "mjd", "mag"])
    sns.lineplot(data=gdf, x="mjd", y="mag", units="star", estimator=None,
                 color=GREY, lw=1.2, sort=False, legend=False, ax=ax)

    rdf = pd.DataFrame(red_curves[i], columns=["mjd", "mag"])
    sns.lineplot(data=rdf, x="mjd", y="mag", estimator=None, color=RED,
                 lw=1.1, sort=False, legend=False, ax=ax)

    ax.set_xlim(*x_limits)
    ax.set_ylim(*y_limits[i])
    ax.set_xticks(x_ticks)
    ax.set_xticklabels([str(v) for v in x_ticks], fontfamily=["cmr10", "DejaVu Serif"], fontsize=11.5)
    ax.set_yticks(y_ticks[i])
    ax.set_yticklabels([y_tick_fmt[i].format(v) for v in y_ticks[i]],
                       fontfamily=["cmr10", "DejaVu Serif"], fontsize=11.5)
    ax.set_xlabel("Modified Julian Date", fontsize=13.5, color="#111111", labelpad=3)
    ax.set_ylabel("Apparent magnitude", fontsize=13.5, color="#111111", labelpad=2)
    for sp in ax.spines.values():
        sp.set_color(SPINE)
        sp.set_linewidth(1.0)
    ax.tick_params(direction="out", length=4, width=0.8, color=SPINE,
                   labelcolor="#333333", pad=3)

fig.savefig("out.png", dpi=100)
